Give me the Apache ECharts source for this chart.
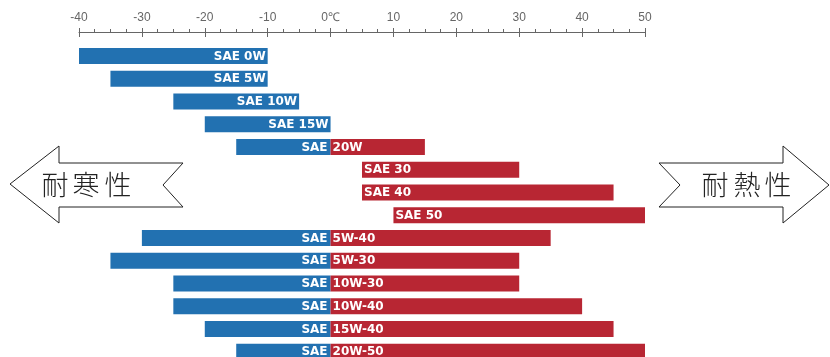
<!DOCTYPE html>
<html>
<head>
<meta charset="utf-8">
<script src="https://cdn.jsdelivr.net/npm/echarts@6/dist/echarts.min.js"></script>
<style>
  html, body { margin: 0; padding: 0; background: #fff; }
  #chart { width: 830px; height: 357px; }
</style>
</head>
<body>
<div id="chart"></div>
<script>
// SAE viscosity grades and their usable ambient temperature range (°C)
const grades = ['0W', '5W', '10W', '15W', '20W', '30', '40', '50',
                '5W-40', '5W-30', '10W-30', '10W-40', '15W-40', '20W-50'];
const lowTemps  = [-40, -35, -25, -20, -15,  5,  5, 10, -30, -35, -25, -25, -20, -15];
const highTemps = [-10, -10,  -5,   0,  15, 30, 45, 50,  35,  30,  30,  40,  45,  50];

// temperature axis
const tempMin = -40;
const tempMax = 50;
const tempStep = 10;
const zeroLabel = '0℃';

// arrow captions
const coldCaption = ['耐', '寒', '性'];
const heatCaption = ['耐', '熱', '性'];

const COLD = '#2271b1';
const HEAT = '#b82633';
const LABEL_FONT = 'bold 12px "DejaVu Sans", sans-serif';

const rows = grades.map((g, i) => [i, lowTemps[i], highTemps[i]]);

function renderRange(params, api) {
  const row = api.value(0);
  const lo = api.value(1);
  const hi = api.value(2);
  const grade = grades[row];
  const band = api.size([0, 1])[1];
  const h = band * 0.7;
  const zero = api.coord([0, row]);
  const yC = zero[1];
  const x0 = zero[0];
  const children = [];
  let xa, xb;

  if (lo < 0) {
    xa = api.coord([lo, row])[0];
    xb = api.coord([Math.min(hi, 0), row])[0];
    children.push({ type: 'rect', shape: { x: xa, y: yC - h / 2, width: xb - xa, height: h },
                    style: { fill: COLD } });
  }
  if (hi > 0) {
    const ra = api.coord([Math.max(lo, 0), row])[0];
    const rb = api.coord([hi, row])[0];
    children.push({ type: 'rect', shape: { x: ra, y: yC - h / 2, width: rb - ra, height: h },
                    style: { fill: HEAT } });
    if (lo >= 0) {
      children.push({ type: 'text', style: { text: 'SAE ' + grade, x: ra + 2, y: yC + 0.5,
        fill: '#fff', font: LABEL_FONT, align: 'left', verticalAlign: 'middle' } });
    }
  }
  if (lo < 0 && hi > 0) {
    children.push({ type: 'text', style: { text: 'SAE', x: x0 - 3, y: yC + 0.5,
      fill: '#fff', font: LABEL_FONT, align: 'right', verticalAlign: 'middle' } });
    children.push({ type: 'text', style: { text: grade, x: x0 + 2, y: yC + 0.5,
      fill: '#fff', font: LABEL_FONT, align: 'left', verticalAlign: 'middle' } });
  } else if (hi <= 0) {
    children.push({ type: 'text', style: { text: 'SAE ' + grade, x: xb - 2, y: yC + 0.5,
      fill: '#fff', font: LABEL_FONT, align: 'right', verticalAlign: 'middle' } });
  }
  return { type: 'group', children };
}

// outlined block arrows
const coldArrow = [[10, 184], [59, 146], [59, 163], [183, 163], [163, 185],
                   [183, 207], [59, 207], [59, 223]];
const heatArrow = [[659, 163], [783, 163], [783, 146], [829, 185], [783, 223],
                   [783, 207], [659, 207], [680, 185]];

function captionTexts(chars, centers, y) {
  return chars.map((c, i) => ({
    type: 'text', x: centers[i], y: y,
    style: { text: c, font: '300 27px "Noto Sans CJK JP", sans-serif', fill: '#222',
             align: 'center', verticalAlign: 'middle' },
    z: 10
  }));
}

const axisColor = '#666';
const baseAxis = {
  type: 'value', position: 'top', min: tempMin, max: tempMax, interval: tempStep,
  offset: 12.6, splitLine: { show: false }
};

const option = {
  animation: false,
  backgroundColor: '#fff',
  // the last row runs past the lower edge of the canvas
  grid: { left: 79, width: 566, top: 44.6, height: 318.6,
          containLabel: false, outerBoundsMode: 'none' },
  xAxis: [
    Object.assign({}, baseAxis, {
      axisLine: { show: true, lineStyle: { color: axisColor, width: 1 } },
      axisTick: { show: true, inside: false, length: 4, lineStyle: { color: axisColor } },
      minorTick: { show: true, splitNumber: 4, length: 3, lineStyle: { color: axisColor } },
      axisLabel: { color: '#666', fontSize: 12, margin: 8, fontFamily: 'Liberation Sans, sans-serif',
                   formatter: v => (v === 0 ? zeroLabel : String(v)) }
    }),
    Object.assign({}, baseAxis, {
      axisLine: { show: false },
      axisTick: { show: true, inside: true, length: 5, lineStyle: { color: axisColor } },
      axisLabel: { show: false }
    })
  ],
  yAxis: {
    type: 'category', data: grades, inverse: true, show: false
  },
  series: [{
    type: 'custom',
    renderItem: renderRange,
    encode: { x: [1, 2], y: 0 },
    data: rows,
    clip: false
  }],
  graphic: [
    { type: 'polygon', shape: { points: coldArrow },
      style: { fill: '#fff', stroke: '#222', lineWidth: 1 }, z: 5 },
    { type: 'polygon', shape: { points: heatArrow },
      style: { fill: '#fff', stroke: '#222', lineWidth: 1 }, z: 5 }
  ].concat(
    captionTexts(coldCaption, [55, 86, 118], 185),
    captionTexts(heatCaption, [715, 747, 778], 185)
  )
};

const chart = echarts.init(document.getElementById('chart'), null, { renderer: 'canvas' });
chart.setOption(option);
</script>
</body>
</html>
